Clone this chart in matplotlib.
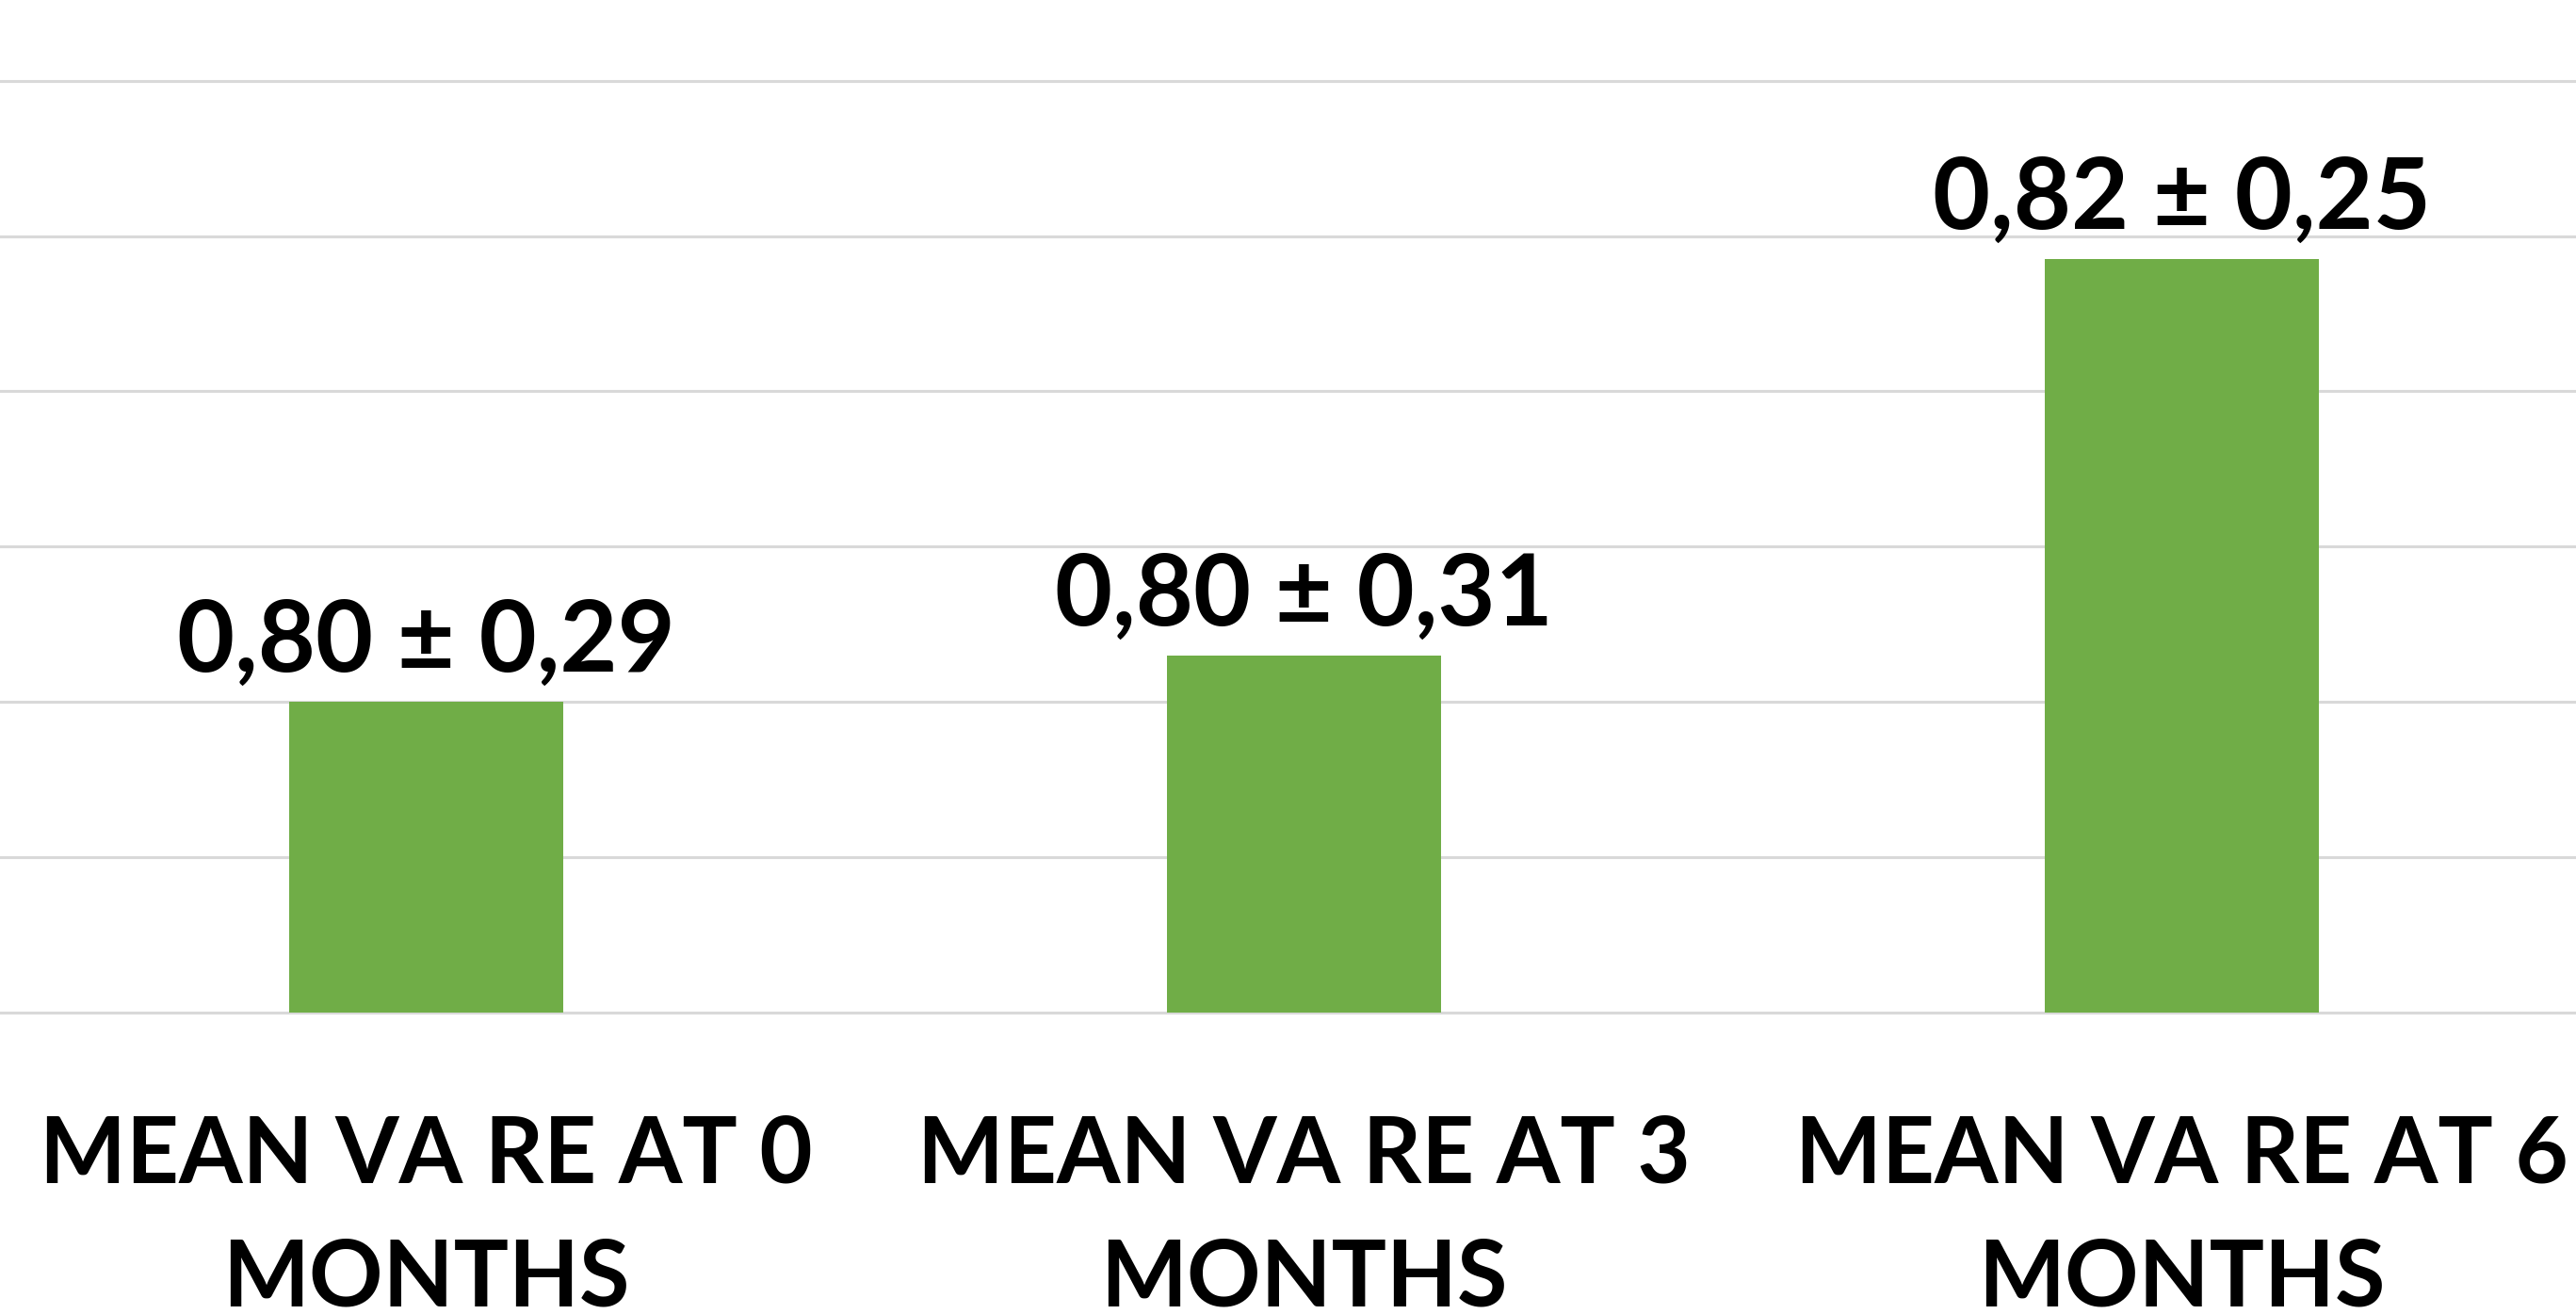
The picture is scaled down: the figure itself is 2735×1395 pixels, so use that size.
import numpy as np
import matplotlib.pyplot as plt

# mean visual acuity (right eye) at each visit, with SD for the labels
categories = ["MEAN VA RE AT 0\nMONTHS", "MEAN VA RE AT 3\nMONTHS", "MEAN VA RE AT 6\nMONTHS"]
means = [0.796, 0.799, 0.8245]
sds = [0.29, 0.31, 0.25]

axis_min = 0.776
axis_step = 0.01
n_grid = 7

GREEN = "#70AD47"
GRID = "#D9D9D9"

plt.rcParams["font.family"] = ["Lato", "DejaVu Sans"]

fig = plt.figure(figsize=(27.35, 13.95), dpi=100)
ax = fig.add_axes([-0.0049, 0.2272, 1.0221, 0.7728])

x = np.arange(len(categories))
heights = np.array(means) - axis_min
ax.bar(x, heights, bottom=axis_min, width=0.3125, color=GREEN, zorder=2)

for xi, m, s in zip(x, means, sds):
    txt = f"{m:.2f} ± {s:.2f}".replace(".", ",")
    ax.annotate(txt, (xi, m), xytext=(0, 23), textcoords="offset points",
                ha="center", va="baseline", fontsize=76, fontweight="bold",
                color="black", annotation_clip=False)

grid_vals = axis_min + axis_step * np.arange(n_grid)
ax.set_yticks(grid_vals)
ax.set_ylim(axis_min - 0.0002, grid_vals[-1] + 0.0052)
ax.set_xlim(-0.5, len(categories) - 0.5)
ax.yaxis.grid(True, color=GRID, linewidth=2.2, zorder=0)
ax.set_axisbelow(True)
ax.tick_params(axis="y", left=False, labelleft=False)

ax.set_xticks(x)
ax.set_xticklabels(categories, fontsize=70, fontweight="bold", linespacing=1.58)
ax.tick_params(axis="x", length=0, pad=75)

for sp in ax.spines.values():
    sp.set_visible(False)

plt.savefig("out.png", dpi=100)
